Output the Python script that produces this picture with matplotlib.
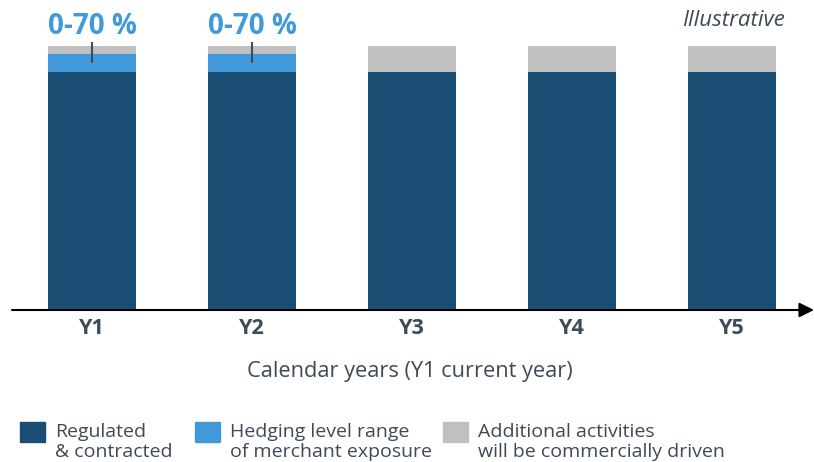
import numpy as np
import matplotlib.pyplot as plt
from matplotlib.patches import Rectangle

plt.rcParams['font.family'] = ['Open Sans', 'DejaVu Sans']

years = ['Y1', 'Y2', 'Y3', 'Y4', 'Y5']
regulated = [90, 90, 90, 90, 90]
hedging = [7, 7, 0, 0, 0]
additional = [3, 3, 10, 10, 10]
hedge_labels = ['0-70 %', '0-70 %', '', '', '']

navy = '#1a4e74'
blue = '#4299da'
grey = '#c0c0c0'
text_col = '#3d4a57'

W, H = 814, 462
fig = plt.figure(figsize=(W / 100, H / 100), dpi=100)
# axes: left at x=12px, right at 806px, bottom (baseline) at y=310px, top at 46px
ax = fig.add_axes([12 / W, 1 - 310 / H, (806 - 12) / W, (310 - 46) / H])

x = np.arange(len(years))
width = 0.556
ax.bar(x, regulated, width, color=navy)
ax.bar(x, hedging, width, bottom=regulated, color=blue)
bottom2 = np.array(regulated) + np.array(hedging)
ax.bar(x, additional, width, bottom=bottom2, color=grey)

# range marker and label above hedged bars
for i, lab in enumerate(hedge_labels):
    if lab:
        ax.plot([x[i], x[i]], [93.6, 101.6], color=text_col, lw=1.5,
                clip_on=False, solid_capstyle='butt')
        ax.text(x[i], 107.5, lab, ha='center', va='center', fontsize=20,
                fontweight='bold', color=blue)

ax.set_xlim(-0.5, 4.4625)
ax.set_ylim(0, 100)
for s in ax.spines.values():
    s.set_visible(False)
ax.set_yticks([])
ax.set_xticks(x)
ax.set_xticklabels(years, fontsize=15.5, fontweight='bold', color=text_col)
ax.tick_params(axis='x', length=0, pad=6)

# baseline with arrow head
ax.annotate('', xy=(814 / W, 1 - 310 / H), xytext=(12 / W, 1 - 310 / H),
            xycoords='figure fraction', textcoords='figure fraction',
            arrowprops=dict(arrowstyle='-|>', color='black', lw=1.5,
                            mutation_scale=22, shrinkA=0, shrinkB=0))

fig.text(410 / W, 1 - 371 / H, 'Calendar years (Y1 current year)',
         ha='center', va='center', fontsize=15.7, color=text_col)
fig.text(785 / W, 1 - 20 / H, 'Illustrative', ha='right', va='center',
         fontsize=16, style='italic', color=text_col)

# legend
legend_items = [(navy, 'Regulated\n& contracted', 20),
                (blue, 'Hedging level range\nof merchant exposure', 195),
                (grey, 'Additional activities\nwill be commercially driven', 443)]
for col, lab, px in legend_items:
    fig.patches.append(Rectangle((px / W, 1 - 442 / H), 25 / W, 20 / H,
                                 transform=fig.transFigure, color=col))
    fig.text((px + 35) / W, 1 - 442 / H, lab, ha='left', va='center',
             fontsize=14, color=text_col, linespacing=1.12)

fig.savefig('out.png', dpi=100)
